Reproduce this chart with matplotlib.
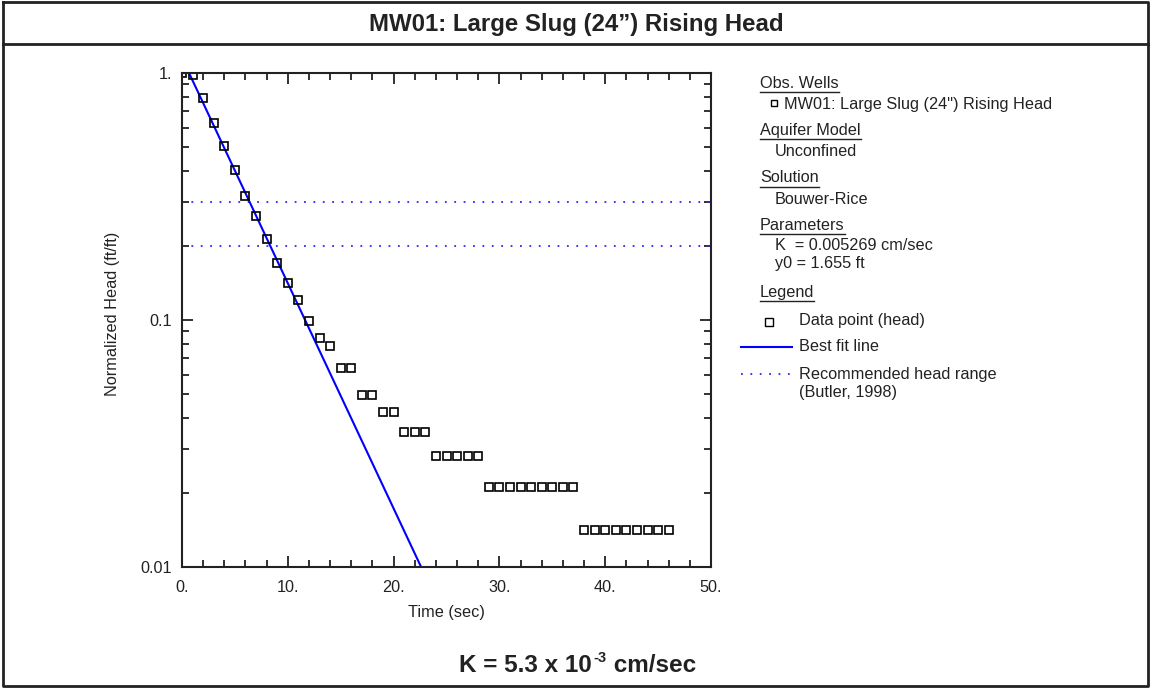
import matplotlib
matplotlib.use("Agg")
import matplotlib.pyplot as plt
from matplotlib.lines import Line2D
from matplotlib.ticker import FixedLocator, FixedFormatter, LogLocator, NullFormatter, MultipleLocator

plt.rcParams['font.family'] = ['Liberation Sans', 'DejaVu Sans']

# ---- data ----
time_s = [0, 1, 2, 3, 4, 5, 6, 7, 8, 9, 10, 11, 12, 13, 14, 15, 16, 17, 18, 19, 20,
          21, 22, 23, 24, 25, 26, 27, 28, 29, 30, 31, 32, 33, 34, 35, 36, 37,
          38, 39, 40, 41, 42, 43, 44, 45, 46]
head = [1.0, 0.98, 0.79, 0.628, 0.506, 0.405, 0.318, 0.264, 0.213, 0.170, 0.141, 0.120,
        0.099, 0.0845, 0.0785, 0.064, 0.064, 0.0497, 0.0497, 0.0424, 0.0424,
        0.0352, 0.0352, 0.0352, 0.0281, 0.0281, 0.0281, 0.0281, 0.0281,
        0.0211, 0.0211, 0.0211, 0.0211, 0.0211, 0.0211, 0.0211, 0.0211, 0.0211,
        0.0141, 0.0141, 0.0141, 0.0141, 0.0141, 0.0141, 0.0141, 0.0141, 0.0141]
fit_t = [0.0, 22.6]
fit_y = [1.15, 0.01]
recommended_range = [0.3, 0.2]

x_ticks = [0, 10, 20, 30, 40, 50]
x_labels = ["0.", "10.", "20.", "30.", "40.", "50."]
y_ticks = [0.01, 0.1, 1.0]
y_labels = ["0.01", "0.1", "1."]

title = "MW01: Large Slug (24\u201d) Rising Head"
result_parts = ["K = 5.3 x 10", "-3", " cm/sec"]

W, H = 1151, 692
fig = plt.figure(figsize=(W / 100, H / 100), dpi=100)

def fx(px):
    return px / W

def fy(py):
    return 1 - py / H

DARK = '#222222'
BLUE = '#0000ff'
DOTBLUE = '#2a2aff'
DOTS = (0, (1, 4.2))

# frames
fig.add_artist(Line2D([fx(3), fx(1148), fx(1148), fx(3), fx(3)],
                      [fy(1.5), fy(1.5), fy(686), fy(686), fy(1.5)],
                      color=DARK, lw=2, transform=fig.transFigure))
fig.add_artist(Line2D([fx(3), fx(1148)], [fy(44), fy(44)], color=DARK, lw=2,
                      transform=fig.transFigure))

fig.text(fx(576), fy(25), title, ha='center', va='center', fontsize=17.3, fontweight='bold',
         color=DARK)

ax = fig.add_axes([fx(182), fy(567), fx(711) - fx(182), (567 - 73) / H])
ax.set_yscale('log')
ax.set_xlim(0, 50)
ax.set_ylim(0.01, 1.0)

for yv in recommended_range:
    ax.axhline(yv, color=DOTBLUE, lw=1.3, ls=DOTS)
ax.plot(fit_t, fit_y, color=BLUE, lw=1.5)
ax.plot(time_s, head, ls='none', marker='s', ms=5.3, mfc='none', mec='black', mew=1.2)

ax.xaxis.set_major_locator(FixedLocator(x_ticks))
ax.xaxis.set_major_formatter(FixedFormatter(x_labels))
ax.xaxis.set_minor_locator(MultipleLocator(2))
ax.yaxis.set_major_locator(FixedLocator(y_ticks))
ax.yaxis.set_major_formatter(FixedFormatter(y_labels))
ax.yaxis.set_minor_locator(LogLocator(base=10, subs=range(2, 10)))
ax.yaxis.set_minor_formatter(NullFormatter())

ax.tick_params(which='both', direction='in', top=True, right=True, labelsize=11.7,
               width=1.3, colors=DARK, labelcolor=DARK)
ax.tick_params(which='major', length=8)
ax.tick_params(which='minor', length=5)
ax.tick_params(axis='x', which='major', pad=9.5)
ax.tick_params(axis='y', which='major', pad=7)
for s in ax.spines.values():
    s.set_linewidth(1.5)
    s.set_color(DARK)

ax.set_xlabel("Time (sec)", fontsize=11.7, color=DARK, va='center')
ax.xaxis.set_label_coords(0.5, (567 - 613) / 494)
ax.set_ylabel("Normalized Head (ft/ft)", fontsize=11.7, color=DARK, va='center')
ax.yaxis.set_label_coords((113 - 182) / 529, (567 - 314) / 494)

# ---- legend panel ----
fs = 11.7
headers = [("Obs. Wells", 83), ("Aquifer Model", 130), ("Solution", 178),
           ("Parameters", 226), ("Legend", 292)]
header_texts = []
for txt, py in headers:
    header_texts.append(fig.text(fx(760), fy(py), txt, ha='left', va='center', fontsize=fs,
                                 color=DARK))

fig.text(fx(784), fy(104), "MW01: Large Slug (24\") Rising Head", ha='left', va='center',
         fontsize=fs, color=DARK)
fig.add_artist(Line2D([fx(774)], [fy(103)], marker='s', ms=5, mfc='none', mec='black', mew=1,
                      transform=fig.transFigure))
fig.text(fx(775), fy(152), "Unconfined", ha='left', va='center', fontsize=fs, color=DARK)
fig.text(fx(775), fy(199), "Bouwer-Rice", ha='left', va='center', fontsize=fs, color=DARK)
fig.text(fx(775), fy(246), "K  = 0.005269 cm/sec", ha='left', va='center', fontsize=fs,
         color=DARK)
fig.text(fx(775), fy(264), "y0 = 1.655 ft", ha='left', va='center', fontsize=fs, color=DARK)

fig.add_artist(Line2D([fx(769)], [fy(322)], marker='s', ms=6, mfc='none', mec='black', mew=1,
                      transform=fig.transFigure))
fig.text(fx(799), fy(321), "Data point (head)", ha='left', va='center', fontsize=fs, color=DARK)
fig.add_artist(Line2D([fx(741), fx(792)], [fy(347), fy(347)], color=BLUE, lw=1.5,
                      transform=fig.transFigure))
fig.text(fx(799), fy(347), "Best fit line", ha='left', va='center', fontsize=fs, color=DARK)
fig.add_artist(Line2D([fx(741), fx(792)], [fy(374), fy(374)], color=DOTBLUE, lw=1.3,
                      ls=DOTS, transform=fig.transFigure))
fig.text(fx(799), fy(375), "Recommended head range", ha='left', va='center', fontsize=fs,
         color=DARK)
fig.text(fx(799), fy(392), "(Butler, 1998)", ha='left', va='center', fontsize=fs, color=DARK)

# ---- result line with superscript ----
fig.canvas.draw()
r = fig.canvas.get_renderer()
base = 672.5
t1 = fig.text(fx(459), fy(base), result_parts[0], ha='left', va='baseline', fontsize=17.5,
              fontweight='bold', color=DARK)
bb1 = t1.get_window_extent(r)
t2 = fig.text((bb1.x1 + 2) / W, fy(base - 10), result_parts[1], ha='left', va='baseline',
              fontsize=10.5, fontweight='bold', color=DARK)
bb2 = t2.get_window_extent(r)
fig.text((bb2.x1) / W, fy(base), result_parts[2], ha='left', va='baseline', fontsize=17.5,
         fontweight='bold', color=DARK)

# underlines for headers
for t in header_texts:
    bb = t.get_window_extent(r)
    yb = bb.y0 - 1.0
    fig.add_artist(Line2D([bb.x0 / W, bb.x1 / W], [yb / H, yb / H], color=DARK, lw=1,
                          transform=fig.transFigure))

fig.savefig("out.png", dpi=100)
